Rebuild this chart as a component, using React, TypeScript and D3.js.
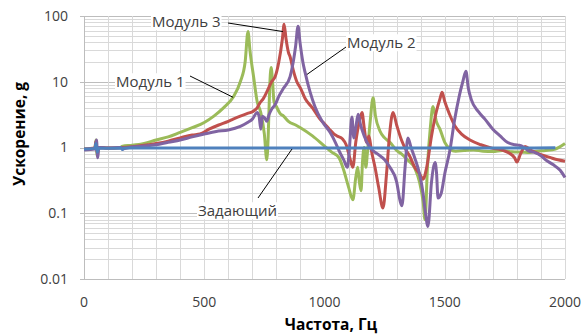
import React, { useEffect, useRef } from "react";
import * as d3 from "d3";

type Pt = [number, number];

const xTicks = [0, 500, 1000, 1500, 2000];
const yTicks = [0.01, 0.1, 1, 10, 100];
const yTickLabels = ["0.01", "0.1", "1", "10", "100"];

// Модуль 1 (green)
const module1: Pt[] = [
  [0, 0.95], [20, 0.95], [45, 0.98], [50, 1.3], [55, 0.75], [60, 1.0], [100, 0.98], [150, 1.0],
  [160, 1.05], [200, 1.08], [250, 1.15], [300, 1.3], [350, 1.45], [400, 1.7], [450, 2.0],
  [500, 2.4], [540, 3.0], [580, 4.0], [620, 5.8], [650, 10], [670, 20], [682, 58], [690, 30],
  [705, 12], [720, 5], [735, 3.4], [750, 1.6], [760, 0.65], [766, 1.5], [772, 8], [778, 16.5],
  [784, 10], [790, 5], [800, 4.2], [815, 3.3], [830, 3.0], [850, 2.5], [880, 2.2], [900, 2.0],
  [950, 1.5], [1000, 1.05], [1030, 0.85], [1060, 0.7], [1080, 0.45], [1100, 0.25], [1118, 0.16],
  [1130, 0.35], [1138, 0.5], [1145, 0.3], [1152, 0.22], [1158, 0.6], [1165, 1.0], [1172, 0.5],
  [1178, 0.8], [1190, 2.5], [1202, 5.7], [1212, 3.0], [1230, 1.8], [1250, 1.4], [1272, 1.2],
  [1300, 0.9], [1320, 0.8], [1345, 0.65], [1376, 0.48], [1395, 0.3], [1410, 0.15], [1418, 0.08],
  [1428, 0.5], [1440, 2.0], [1451, 4.2], [1465, 2.5], [1480, 1.9], [1500, 1.2], [1522, 0.95],
  [1545, 0.88], [1580, 0.9], [1620, 0.92], [1660, 0.88], [1700, 0.87], [1740, 0.9], [1780, 0.86],
  [1820, 0.85], [1854, 0.84], [1880, 0.88], [1920, 0.9], [1960, 0.95], [2000, 1.15],
];

// Модуль 2 (purple)
const module2: Pt[] = [
  [0, 0.92], [45, 0.95], [52, 1.3], [57, 0.7], [62, 1.0], [100, 0.98], [155, 1.0], [160, 0.95],
  [200, 1.02], [250, 1.05], [300, 1.1], [350, 1.2], [400, 1.3], [450, 1.45], [500, 1.6],
  [550, 1.75], [600, 1.85], [650, 2.1], [680, 2.4], [700, 2.7], [720, 3.4], [728, 3.0],
  [735, 1.9], [742, 3.0], [752, 2.8], [760, 2.5], [770, 3.2], [780, 3.8], [795, 4.5], [810, 6],
  [830, 8], [857, 12], [870, 20], [880, 35], [890, 70], [898, 40], [910, 20], [919, 14],
  [940, 7], [960, 4.2], [990, 2.5], [1023, 1.7], [1045, 1.2], [1064, 0.84], [1080, 0.65],
  [1095, 0.5], [1103, 0.9], [1114, 2.9], [1122, 1.4], [1130, 2.0], [1140, 3.2], [1150, 2.2],
  [1165, 1.5], [1189, 1.0], [1220, 0.8], [1250, 0.65], [1272, 0.5], [1300, 0.3], [1315, 0.15],
  [1322, 0.13], [1335, 0.5], [1347, 1.4], [1360, 1.0], [1375, 0.7], [1395, 0.4], [1410, 0.2],
  [1420, 0.1], [1430, 0.063], [1445, 0.3], [1460, 0.59], [1466, 0.4], [1472, 0.17], [1485, 0.2],
  [1500, 0.4], [1522, 0.93], [1540, 2.5], [1560, 6], [1575, 10], [1588, 14.4], [1598, 8],
  [1610, 5.4], [1640, 3.5], [1667, 2.7], [1700, 1.9], [1730, 1.5], [1760, 1.2], [1792, 1.1],
  [1810, 1.08], [1830, 1.0], [1850, 0.88], [1870, 0.85], [1900, 0.75], [1917, 0.66],
  [1950, 0.55], [1980, 0.45], [2000, 0.35],
];

// Модуль 3 (red)
const module3: Pt[] = [
  [0, 0.95], [45, 0.98], [50, 1.25], [55, 0.8], [60, 1.0], [100, 0.98], [160, 1.0], [200, 1.03],
  [250, 1.08], [300, 1.15], [350, 1.25], [400, 1.4], [450, 1.55], [482, 1.6], [520, 1.9],
  [560, 2.2], [600, 2.5], [620, 2.7], [650, 3.0], [680, 3.3], [700, 3.5], [720, 4.0], [732, 4.8],
  [745, 5.5], [760, 7], [780, 10], [795, 12], [810, 20], [825, 45], [832, 75], [840, 45],
  [850, 28], [857, 24], [870, 15], [885, 10], [900, 8], [920, 5.5], [950, 4], [981, 2.7],
  [1000, 2.3], [1020, 1.9], [1040, 1.6], [1052, 1.5], [1075, 1.35], [1090, 1.1], [1105, 0.7],
  [1118, 0.5], [1130, 1.2], [1145, 2.5], [1156, 3.4], [1165, 2.0], [1175, 1.2], [1185, 1.5],
  [1195, 0.9], [1210, 0.5], [1225, 0.25], [1243, 0.12], [1258, 0.4], [1270, 1.5], [1285, 3.4],
  [1300, 2.2], [1320, 1.3], [1340, 0.9], [1355, 0.73], [1375, 0.5], [1395, 0.4], [1410, 0.33],
  [1425, 0.5], [1445, 1.5], [1465, 3.5], [1480, 5.5], [1489, 6.9], [1500, 5.0], [1520, 3.2],
  [1543, 2.1], [1570, 1.6], [1605, 1.3], [1650, 1.1], [1700, 0.97], [1730, 0.93], [1760, 0.85],
  [1790, 0.7], [1800, 0.6], [1815, 0.8], [1834, 1.04], [1860, 0.9], [1900, 0.78], [1940, 0.7],
  [1970, 0.65], [2000, 0.62],
];

// Задающий (blue)
const driver: Pt[] = [
  [0, 0.95], [45, 0.97], [50, 1.15], [55, 0.85], [60, 0.97], [100, 0.97], [155, 0.98],
  [160, 0.93], [165, 0.98], [300, 0.98], [500, 0.98], [700, 0.98], [900, 0.98], [1100, 0.98],
  [1300, 0.98], [1500, 0.98], [1700, 0.98], [1960, 0.99],
];

const seriesNames = ["Модуль 1", "Модуль 2", "Модуль 3", "Задающий"];
const seriesData = [module1, module2, module3, driver];
const seriesColors = ["#9bbb59", "#8064a2", "#c0504d", "#4f81bd"];
const drawOrder = [0, 2, 1, 3];

// label anchor in px, leader tip in data units
const labelPos: Pt[] = [[116, 82], [347, 43], [152, 22], [198, 211]];
const leaderFrom: Pt[] = [[190, 76], [346, 47], [228, 23], [258, 198]];
const leaderTo: Pt[] = [[620, 5.8], [927, 12.9], [827, 58], [865, 0.95]];

export default function App() {
  const svgRef = useRef<SVGSVGElement>(null);

  useEffect(() => {
    const width = 585, height = 336;
    const left = 84, right = 565, top = 16, bottom = 279;
    const svg = d3.select(svgRef.current);
    svg.selectAll("*").remove();
    svg.attr("width", width).attr("height", height);

    svg.append("rect").attr("width", width).attr("height", height).attr("fill", "#fff");

    const x = d3.scaleLinear().domain([0, 2000]).range([left, right]);
    const y = d3.scaleLog().domain([0.01, 100]).range([bottom, top]);

    // grid
    const grid = svg.append("g");
    const minor: number[] = [];
    for (let d = 0.01; d < 100; d *= 10)
      for (let k = 1; k < 10; k++) minor.push(+(d * k).toPrecision(3));
    minor.push(100);
    grid.selectAll("line.h")
      .data(minor)
      .join("line")
      .attr("x1", d => (yTicks.includes(d) ? left - 4 : left))
      .attr("x2", right)
      .attr("y1", d => Math.round(y(d)) + 0.5)
      .attr("y2", d => Math.round(y(d)) + 0.5)
      .attr("stroke", d => (yTicks.includes(d) ? "#bdbdbd" : "#d9d9d9"));
    grid.selectAll("line.v")
      .data(d3.range(0, 2001, 100))
      .join("line")
      .attr("x1", d => Math.round(x(d)) + 0.5)
      .attr("x2", d => Math.round(x(d)) + 0.5)
      .attr("y1", top)
      .attr("y2", bottom)
      .attr("stroke", d => (d === 0 ? "#bdbdbd" : "#d9d9d9"));

    const font = "'Open Sans', 'DejaVu Sans', sans-serif";

    // tick labels
    svg.append("g")
      .selectAll("text")
      .data(yTicks)
      .join("text")
      .attr("x", 68)
      .attr("y", d => y(d))
      .attr("dy", "0.35em")
      .attr("text-anchor", "end")
      .attr("font-family", font)
      .attr("font-size", 14)
      .attr("fill", "#404040")
      .text((_, i) => yTickLabels[i]);

    svg.append("g")
      .selectAll("text")
      .data(xTicks)
      .join("text")
      .attr("x", d => x(d))
      .attr("y", 302)
      .attr("dy", "0.35em")
      .attr("text-anchor", "middle")
      .attr("font-family", font)
      .attr("font-size", 14)
      .attr("fill", "#404040")
      .text(d => String(d));

    // lines
    const line = d3.line<Pt>()
      .x(d => x(d[0]))
      .y(d => y(d[1]))
      .curve(d3.curveMonotoneX);

    svg.append("g")
      .selectAll("path")
      .data(drawOrder)
      .join("path")
      .attr("d", i => line(seriesData[i]))
      .attr("fill", "none")
      .attr("stroke", i => seriesColors[i])
      .attr("stroke-width", 3)
      .attr("stroke-linejoin", "round");

    // annotations
    const ann = svg.append("g");
    seriesNames.forEach((name, i) => {
      const g = ann.append("g");
      const bg = g.append("rect").attr("fill", "#fff");
      const t = g.append("text")
        .attr("x", labelPos[i][0])
        .attr("y", labelPos[i][1])
        .attr("dy", "0.35em")
        .attr("font-family", font)
        .attr("font-size", 15)
        .attr("fill", "#404040")
        .text(name);
      const bb = (t.node() as SVGTextElement).getBBox();
      bg.attr("x", bb.x - 1).attr("y", bb.y + 2).attr("width", bb.width + 2).attr("height", bb.height - 3);
      ann.append("line")
        .attr("x1", leaderFrom[i][0])
        .attr("y1", leaderFrom[i][1])
        .attr("x2", x(leaderTo[i][0]))
        .attr("y2", y(leaderTo[i][1]))
        .attr("stroke", "#000")
        .attr("stroke-width", 1);
    });

    // axis titles
    svg.append("text")
      .attr("transform", "translate(20,134) rotate(-90)")
      .attr("text-anchor", "middle")
      .attr("dy", "0.35em")
      .attr("font-family", font)
      .attr("font-size", 15.5)
      .attr("font-weight", "bold")
      .attr("fill", "#000")
      .text("Ускорение, g");

    svg.append("text")
      .attr("x", 331)
      .attr("y", 325)
      .attr("dy", "0.35em")
      .attr("text-anchor", "middle")
      .attr("font-family", font)
      .attr("font-size", 15.5)
      .attr("font-weight", "bold")
      .attr("fill", "#000")
      .text("Частота, Гц");
  }, []);

  return (
    <div style={{ position: "absolute", left: 0, top: 0 }}>
      <svg ref={svgRef} style={{ display: "block" }} />
    </div>
  );
}
